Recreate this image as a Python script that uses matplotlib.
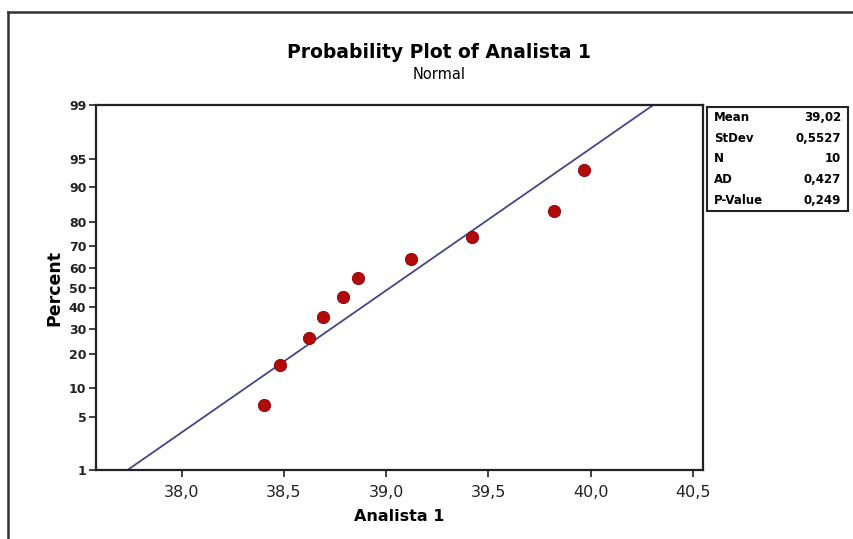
import numpy as np
import matplotlib
matplotlib.use("Agg")
import matplotlib.pyplot as plt
from matplotlib.lines import Line2D
from matplotlib.patches import Rectangle
from statistics import NormalDist

# ---- data ----
analista1 = [38.40, 38.48, 38.62, 38.69, 38.79, 38.86, 39.12, 39.42, 39.82, 39.97]
percent = [6.7, 16.3, 26.0, 35.6, 45.2, 54.8, 64.4, 74.0, 83.7, 93.3]
y_ticks = [1, 5, 10, 20, 30, 40, 50, 60, 70, 80, 90, 95, 99]
x_ticks = [38.0, 38.5, 39.0, 39.5, 40.0, 40.5]
x_tick_labels = ["38,0", "38,5", "39,0", "39,5", "40,0", "40,5"]
stat_names = ["Mean", "StDev", "N", "AD", "P-Value"]
stat_values = ["39,02", "0,5527", "10", "0,427", "0,249"]
mean, stdev = 39.02, 0.5527

nd = NormalDist()
def fwd(p):
    p = np.asarray(p, dtype=float)
    out = np.full(p.shape, np.nan)
    flat = p.ravel()
    res = out.ravel()
    for i, v in enumerate(flat):
        q = v / 100.0
        q = min(max(q, 1e-9), 1 - 1e-9) if np.isfinite(q) else 0.5
        res[i] = nd.inv_cdf(q)
    return res.reshape(p.shape)
def inv(z):
    z = np.asarray(z, dtype=float)
    return np.vectorize(lambda v: 100.0 * nd.cdf(v))(z) if z.size else z

fig = plt.figure(figsize=(8.54, 5.39), dpi=100)
ax = fig.add_axes([0.1124, 0.128, 0.7108, 0.677])
ax.set_yscale("function", functions=(fwd, inv))

# fitted line
p_line = [1, 99]
x_line = [mean + stdev * nd.inv_cdf(p / 100) for p in p_line]
ax.plot(x_line, p_line, color="#45458c", lw=1.3, zorder=2)
ax.scatter(analista1, percent, s=78, color="#b00a0a", edgecolors="#8a0000",
           linewidths=0.6, zorder=3)

ax.set_xlim(37.58, 40.55)
ax.set_ylim(1, 99)
ax.set_yticks(y_ticks)
ax.set_yticklabels([str(t) for t in y_ticks], fontsize=9, fontweight="bold")
ax.yaxis.set_minor_locator(matplotlib.ticker.NullLocator())
ax.set_xticks(x_ticks)
ax.set_xticklabels(x_tick_labels, fontsize=11.5)
ax.tick_params(direction="out", length=5, width=1.2, colors="#222222")
ax.tick_params(axis="x", pad=6)
ax.tick_params(axis="y", pad=2)
for s in ax.spines.values():
    s.set_linewidth(1.6)
    s.set_color("#222222")

ax.set_xlabel("Analista 1", fontsize=11.5, fontweight="bold", labelpad=6)
ax.set_ylabel("Percent", fontsize=12.5, fontweight="bold", labelpad=4)

fig.text(0.514, 0.903, "Probability Plot of Analista 1", ha="center", va="center",
         fontsize=13.5, fontweight="bold")
fig.text(0.514, 0.861, "Normal", ha="center", va="center", fontsize=10.5)

# stats box
bx0, by0, bx1, by1 = 707 / 854, 1 - 211 / 539, 848 / 854, 1 - 107 / 539
fig.patches.append(Rectangle((bx0, by0), bx1 - bx0, by1 - by0, transform=fig.transFigure,
                             fill=False, edgecolor="#222222", lw=1.5))
row_h = (by1 - by0) / len(stat_names)
for i, (n, v) in enumerate(zip(stat_names, stat_values)):
    yy = by1 - row_h * (i + 0.5)
    fig.text(bx0 + 0.008, yy, n, ha="left", va="center", fontsize=8.5, fontweight="bold")
    fig.text(bx1 - 0.008, yy, v, ha="right", va="center", fontsize=8.5, fontweight="bold")

# outer frame
fig.add_artist(Line2D([8 / 854, 1.0], [1 - 12 / 539] * 2, transform=fig.transFigure,
                      color="#333333", lw=1.8))
fig.add_artist(Line2D([8 / 854] * 2, [0, 1 - 12 / 539], transform=fig.transFigure,
                      color="#333333", lw=1.8))

fig.savefig("out.png", dpi=100)
